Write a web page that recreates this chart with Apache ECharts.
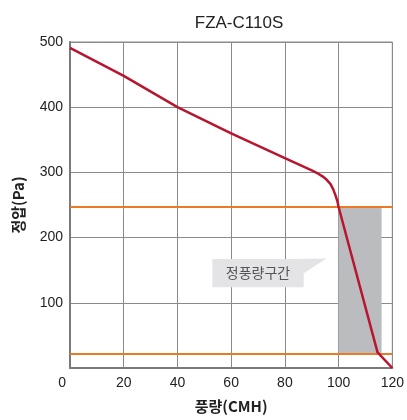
<!DOCTYPE html>
<html>
<head>
<meta charset="utf-8">
<script src="https://cdn.jsdelivr.net/npm/echarts@6/dist/echarts.min.js"></script>
<style>
  html, body { margin: 0; padding: 0; background: #fff; }
  #chart { width: 407px; height: 420px; }
</style>
</head>
<body>
<div id="chart"></div>
<script>
// fan curve values
const flowX = [0, 20, 40, 60, 80, 90, 92, 94, 95.5, 97, 98, 99, 99.6, 100, 114.5, 120];
const pressure = [491, 448, 400, 360, 322, 303, 299, 294, 289, 282, 274, 263, 255, 247, 24, 0];
const xTicks = [0, 20, 40, 60, 80, 100, 120];
const yTicks = [0, 100, 200, 300, 400, 500];
const limitLines = [247, 22];
const zoneX = [100, 116];
const zoneLabel = '정풍량구간';

const fontLatin = '"Liberation Sans", Arial, "Noto Sans CJK KR", sans-serif';
const fontKr = '"Noto Sans CJK KR", "Liberation Sans", sans-serif';

let myChart = echarts.init(document.getElementById('chart'));

const curveData = flowX.map((x, i) => [x, pressure[i]]);

const option = {
    animation: false,
    title: {
        text: 'FZA-C110S',
        left: 234,
        textAlign: 'center',
        top: 10,
        textStyle: { fontFamily: fontLatin, fontSize: 17, fontWeight: 'normal', color: '#222' }
    },
    grid: {
        left: 70, right: 11, top: 42, bottom: 52,
        show: true, borderColor: '#8a8a8a', borderWidth: 1
    },
    xAxis: {
        type: 'value',
        min: xTicks[0], max: xTicks[xTicks.length - 1], interval: 20,
        name: '풍량(CMH)',
        nameLocation: 'middle',
        nameGap: 31,
        nameTextStyle: { fontFamily: fontKr, fontSize: 15, fontWeight: 'bold', color: '#222' },
        axisLine: { lineStyle: { color: '#7a7a7a', width: 2 } },
        axisTick: { show: false },
        axisLabel: {
            fontFamily: fontLatin, fontSize: 14, color: '#222', margin: 8,
            formatter: v => (v === 0 ? '0    ' : v)
        },
        splitLine: { lineStyle: { color: '#8a8a8a', width: 1 } }
    },
    yAxis: {
        type: 'value',
        min: yTicks[0], max: yTicks[yTicks.length - 1], interval: 100,
        name: '정압(Pa)',
        nameLocation: 'middle',
        nameGap: 44,
        nameTextStyle: { fontFamily: fontKr, fontSize: 15, fontWeight: 'bold', color: '#222' },
        axisLine: { show: true, lineStyle: { color: '#7a7a7a', width: 2 } },
        axisTick: { show: false },
        axisLabel: {
            fontFamily: fontLatin, fontSize: 14, color: '#222', margin: 7,
            formatter: v => (v === 0 ? '' : v)
        },
        splitLine: { lineStyle: { color: '#8a8a8a', width: 1 } }
    },
    series: [
        {
            type: 'line',
            data: [],
            z: 1,
            markArea: {
                silent: true,
                itemStyle: { color: '#bbbcc0' },
                data: [[
                    { xAxis: zoneX[0], yAxis: limitLines[1] },
                    { xAxis: zoneX[1], yAxis: limitLines[0] }
                ]]
            },
            markLine: {
                silent: true,
                symbol: 'none',
                label: { show: false },
                lineStyle: { color: '#ea7b24', width: 2, type: 'solid' },
                data: limitLines.map(v => ({ yAxis: v }))
            }
        },
        {
            type: 'line',
            data: curveData,
            z: 5,
            showSymbol: false,
            lineStyle: { color: '#b8162f', width: 2.5, join: 'round' }
        }
    ]
};
myChart.setOption(option);

// speech-bubble label, placed through the axis scales
const tl = myChart.convertToPixel({ gridIndex: 0 }, [53, 167]);
const br = myChart.convertToPixel({ gridIndex: 0 }, [87, 124]);
const tip = myChart.convertToPixel({ gridIndex: 0 }, [95.5, 168]);
const w = br[0] - tl[0];
const h = br[1] - tl[1];
myChart.setOption({
    graphic: [
        {
            type: 'rect',
            shape: { x: tl[0], y: tl[1], width: w, height: h },
            style: { fill: '#e4e4e6' },
            z: 3
        },
        {
            type: 'polygon',
            shape: { points: [[br[0] - 12, tl[1]], [tip[0], tip[1]], [br[0], tl[1] + h * 0.5], [br[0] - 12, tl[1] + h * 0.5]] },
            style: { fill: '#e4e4e6' },
            z: 3
        },
        {
            type: 'text',
            x: tl[0] + w / 2,
            y: tl[1] + h / 2,
            style: {
                text: zoneLabel,
                fill: '#555',
                font: '14px ' + fontKr,
                align: 'center',
                verticalAlign: 'middle'
            },
            z: 4
        }
    ]
});
</script>
</body>
</html>
